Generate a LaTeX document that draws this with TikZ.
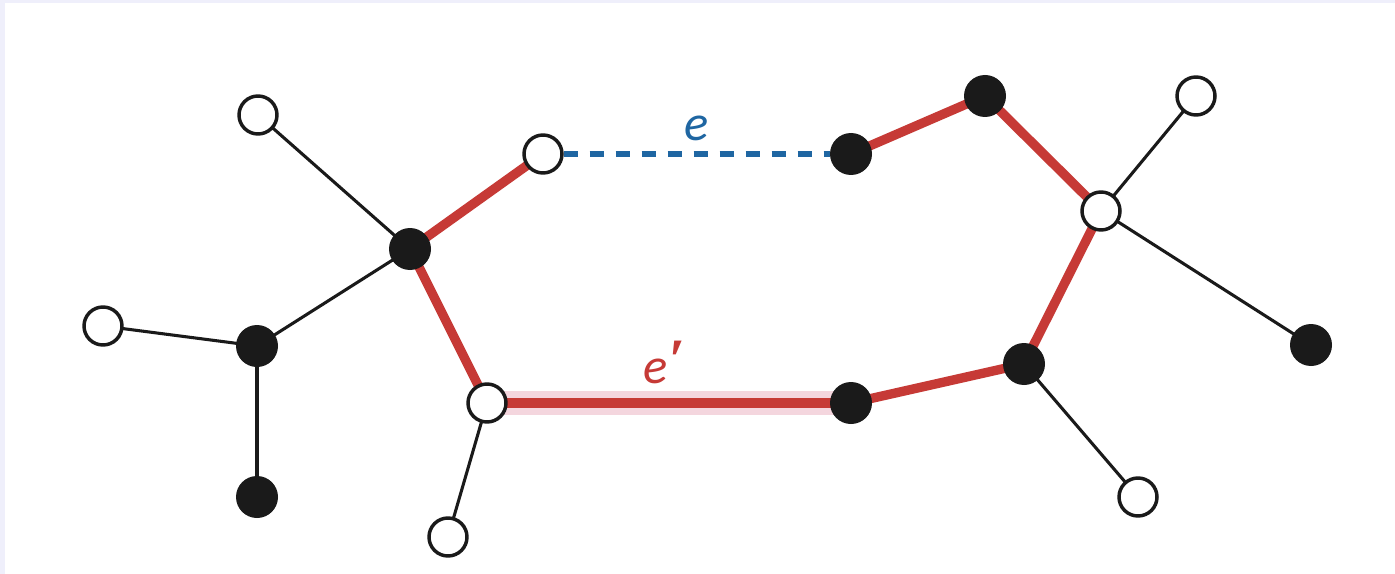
\documentclass[tikz,border=0pt]{standalone}
\usepackage{fontspec}
\usetikzlibrary{backgrounds}
\newfontfamily\lblfont{Carlito}
\newfontfamily\primefont{Liberation Serif}
\definecolor{edgered}{HTML}{C63A36}
\definecolor{glowpink}{HTML}{F4D6DE}
\definecolor{dashblue}{HTML}{1F66A2}
\definecolor{dotblack}{HTML}{1A1A1A}
\definecolor{frame}{HTML}{EFEFFB}
\begin{document}
\begin{tikzpicture}[x=0.75pt,y=-0.75pt,
  wnode/.style={circle,draw=dotblack,fill=white,line width=2.6pt,minimum size=28.5pt,inner sep=0pt},
  bnode/.style={circle,fill=dotblack,minimum size=31.5pt,inner sep=0pt},
  plain/.style={draw=dotblack,line width=2.3pt},
  tree/.style={draw=edgered,line width=7pt},
  glow/.style={draw=glowpink,line width=18pt},
  nontree/.style={draw=dashblue,line width=4pt,dash pattern=on 10.5pt off 9pt},
  lbl/.style={font=\lblfont\itshape\fontsize{38}{40}\selectfont,inner sep=0pt}]
\useasboundingbox (0,0) rectangle (1395,574);
% nodes
\node[wnode] (w1) at (258,115) {};
\node[bnode] (b1) at (410,249) {};
\node[wnode] (w2) at (543,154) {};
\node[bnode] (b2) at (851,154) {};
\node[bnode] (b3) at (985,96) {};
\node[wnode] (w3) at (1196,96) {};
\node[wnode] (w4) at (1101,211) {};
\node[bnode] (b4) at (1311,345) {};
\node[bnode] (b5) at (1024,364) {};
\node[wnode] (w5) at (1138,497) {};
\node[bnode] (b6) at (851,403) {};
\node[wnode] (w6) at (487,403) {};
\node[wnode] (w7) at (448,537) {};
\node[bnode] (b7) at (257,346) {};
\node[wnode] (w8) at (103,326) {};
\node[bnode] (b8) at (257,497) {};
\node[lbl,text=dashblue] (le) at (697,128) {e};
\node[lbl,text=edgered,anchor=base west] (lep) at (643,383) {e\hspace{1pt}{\primefont\bfseries\fontsize{44}{46}\selectfont\raisebox{3pt}{′}}};
% edges
\begin{scope}[on background layer]
\fill[frame] (0,0) rectangle (1395,574);
\fill[white] (5,3) rectangle (1395,574);
\path[glow] (w6.center) -- (b6.center);
\path[plain] (w1.center) -- (b1.center);
\path[plain] (b1.center) -- (b7.center);
\path[plain] (b7.center) -- (w8.center);
\path[plain] (b7.center) -- (b8.center);
\path[plain] (w6.center) -- (w7.center);
\path[plain] (w4.center) -- (w3.center);
\path[plain] (w4.center) -- (b4.center);
\path[plain] (b5.center) -- (w5.center);
\path[tree] (b1.center) -- (w2.center);
\path[tree] (b1.center) -- (w6.center);
\path[tree] (w6.center) -- (b6.center);
\path[tree] (b6.center) -- (b5.center);
\path[tree] (b5.center) -- (w4.center);
\path[tree] (w4.center) -- (b3.center);
\path[tree] (b3.center) -- (b2.center);
\path[nontree] (w2.east) -- (b2.west);
\end{scope}
\end{tikzpicture}
\end{document}
